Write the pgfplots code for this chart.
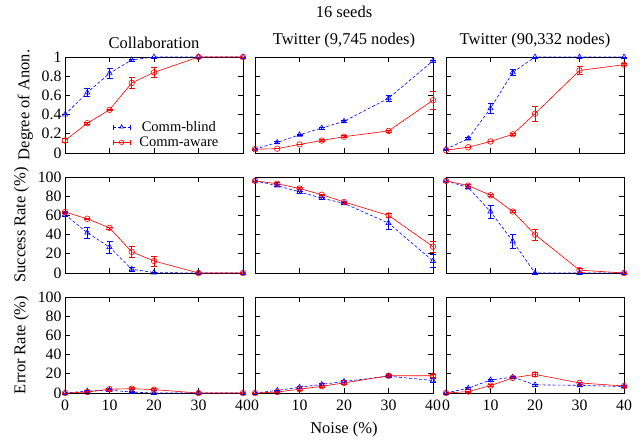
\documentclass[border=0pt]{standalone}
\usepackage{fontspec}
\setmainfont{Liberation Serif}
\usepackage{pgfplots}
\pgfplotsset{compat=1.18}

\newcommand{\fs}{\fontsize{16.5}{19}\selectfont}
\newcommand{\ft}{\fontsize{15.8}{18}\selectfont}

\pgfplotsset{
  panel/.style={
    scale only axis, width=178pt, height=96pt, anchor=south west,
    xmin=0, xmax=40, xtick={0,10,20,30,40},
    tick align=inside, xtick pos=both, ytick pos=both,
    major tick length=5pt,
    axis line style={line width=0.9pt},
    every tick/.style={black, line width=0.9pt},
    xticklabels={},
    label style={font=\fs},
    title style={font=\fs, yshift=-1pt},
    ylabel shift=2pt,
    /pgf/number format/assume math mode=true,
    clip=false,
  },
  anon/.style={ymin=0, ymax=1, ytick={0,0.2,0.4,0.6,0.8,1},
    yticklabels={{\ft 0},{\ft 0.2},{\ft 0.4},{\ft 0.6},{\ft 0.8},{\ft 1}}},
  pct/.style={ymin=0, ymax=100, ytick={0,20,40,60,80,100},
    yticklabels={{\ft 0},{\ft 20},{\ft 40},{\ft 60},{\ft 80},{\ft 100}}},
  noy/.style={yticklabels={}},
  botx/.style={xticklabels={{\ft 0},{\ft 10},{\ft 20},{\ft 30},{\ft 40}},
    xticklabel style={yshift=-3pt}},
  legimg/.style={legend image code/.code={
      \draw[mark repeat=2,mark phase=2,mark size=2.3pt,##1] plot coordinates {(0pt,0pt)(8.5pt,0pt)(17pt,0pt)};
      \draw[##1,solid,mark=none] (0pt,-2.5pt)--(0pt,2.5pt) (17pt,-2.5pt)--(17pt,2.5pt);
  }},
  blind/.style={blue, line width=0.6pt, dash pattern=on 3pt off 2pt,
    mark=triangle, mark size=3pt, mark options={solid}, legimg,
    error bars/.cd, y dir=both, y explicit,
    error bar style={solid, line width=0.6pt},
    error mark options={rotate=90, mark size=3pt, solid, line width=0.6pt}},
  aware/.style={red, line width=0.6pt, solid,
    mark=o, mark size=2.8pt, legimg,
    error bars/.cd, y dir=both, y explicit,
    error bar style={solid, line width=0.6pt},
    error mark options={rotate=90, mark size=3pt, solid, line width=0.6pt}},
}

\begin{document}
\begin{tikzpicture}
\path[use as bounding box] (0,0) rectangle (644pt,-447pt);
\node[font=\fs] at (344pt,-12pt) {16 seeds};

% ---- row 1: degree of anonymity
\begin{axis}[panel, anon, at={(65pt,-153pt)}, title={Collaboration}, ylabel={Degree of Anon.},
  legend style={at={(0.885,0.02)}, anchor=south east, draw=none, fill=none,
    font=\fontsize{14.5}{16}\selectfont,
    row sep=2pt, column sep=8pt, nodes={inner sep=1pt}}]
\addplot[blind] coordinates {(0,0.40) +- (0,0) (5,0.63) +- (0,0.04) (10,0.83) +- (0,0.05)
  (15,0.97) +- (0,0.01) (20,1.0) +- (0,0) (30,1.0) +- (0,0) (40,1.0) +- (0,0)};
\addlegendentry{Comm-blind}
\addplot[aware] coordinates {(0,0.13) +- (0,0.02) (5,0.31) +- (0,0.01) (10,0.45) +- (0,0.01)
  (15,0.73) +- (0,0.06) (20,0.84) +- (0,0.05) (30,1.0) +- (0,0) (40,1.0) +- (0,0)};
\addlegendentry{Comm-aware}
\end{axis}

\begin{axis}[panel, anon, noy, at={(255pt,-153pt)}, title={Twitter (9,745 nodes)}]
\addplot[blind] coordinates {(0,0.04) +- (0,0) (5,0.11) +- (0,0.01) (10,0.19) +- (0,0.01)
  (15,0.26) +- (0,0.01) (20,0.33) +- (0,0.01) (30,0.57) +- (0,0.03) (40,0.96) +- (0,0.01)};
\addplot[aware] coordinates {(0,0.04) +- (0,0) (5,0.045) +- (0,0) (10,0.09) +- (0,0)
  (15,0.13) +- (0,0.01) (20,0.17) +- (0,0.01) (30,0.23) +- (0,0.01) (40,0.55) +- (0,0.09)};
\end{axis}

\begin{axis}[panel, anon, noy, at={(446pt,-153pt)}, title={Twitter (90,332 nodes)}]
\addplot[blind] coordinates {(0,0.04) +- (0,0) (5,0.15) +- (0,0.01) (10,0.465) +- (0,0.05)
  (15,0.84) +- (0,0.03) (20,1.0) +- (0,0) (30,1.0) +- (0,0) (40,1.0) +- (0,0)};
\addplot[aware] coordinates {(0,0.03) +- (0,0) (5,0.06) +- (0,0) (10,0.12) +- (0,0)
  (15,0.195) +- (0,0.01) (20,0.41) +- (0,0.08) (30,0.86) +- (0,0.04) (40,0.92) +- (0,0.01)};
\end{axis}

% ---- row 2: success rate
\begin{axis}[panel, pct, at={(65pt,-273pt)}, ylabel={Success Rate (\%)}]
\addplot[blind] coordinates {(0,61) +- (0,2) (5,42) +- (0,6) (10,27) +- (0,6)
  (15,4) +- (0,2) (20,0.5) +- (0,0) (30,0) +- (0,0) (40,0) +- (0,0)};
\addplot[aware] coordinates {(0,63.5) +- (0,1) (5,56.5) +- (0,1) (10,47) +- (0,1)
  (15,22) +- (0,6) (20,12.5) +- (0,5) (30,0) +- (0,0) (40,0) +- (0,0)};
\end{axis}

\begin{axis}[panel, pct, noy, at={(255pt,-273pt)}]
\addplot[blind] coordinates {(0,96) +- (0,0) (5,91) +- (0,1) (10,84.5) +- (0,1)
  (15,78) +- (0,1) (20,72.5) +- (0,1) (30,52) +- (0,6) (40,12.5) +- (0,7)};
\addplot[aware] coordinates {(0,96) +- (0,0) (5,93) +- (0,1) (10,88) +- (0,1)
  (15,81.5) +- (0,1) (20,74) +- (0,1) (30,60) +- (0,2) (40,27.5) +- (0,6)};
\end{axis}

\begin{axis}[panel, pct, noy, at={(446pt,-273pt)}]
\addplot[blind] coordinates {(0,96) +- (0,0) (5,89) +- (0,1) (10,64) +- (0,7)
  (15,33) +- (0,7) (20,0) +- (0,0) (30,0) +- (0,0) (40,0) +- (0,0)};
\addplot[aware] coordinates {(0,96) +- (0,0) (5,91) +- (0,1) (10,81) +- (0,1)
  (15,64) +- (0,1) (20,40) +- (0,6) (30,3) +- (0,2) (40,0) +- (0,0)};
\end{axis}

% ---- row 3: error rate
\begin{axis}[panel, pct, botx, at={(65pt,-393pt)}, ylabel={Error Rate (\%)}]
\addplot[blind] coordinates {(0,0) +- (0,0) (5,2) +- (0,0.5) (10,3) +- (0,1)
  (15,1) +- (0,0.5) (20,0) +- (0,0) (30,0) +- (0,0) (40,0) +- (0,0)};
\addplot[aware] coordinates {(0,0) +- (0,0) (5,1) +- (0,0.5) (10,4) +- (0,1)
  (15,4.5) +- (0,1) (20,3.5) +- (0,1) (30,0) +- (0,0) (40,0) +- (0,0)};
\end{axis}

\begin{axis}[panel, pct, noy, botx, at={(255pt,-393pt)}, xlabel={Noise (\%)},
  xlabel style={yshift=-5pt}]
\addplot[blind] coordinates {(0,0) +- (0,0) (5,2.7) +- (0,0.5) (10,6) +- (0,1)
  (15,9) +- (0,1) (20,12) +- (0,1) (30,17.5) +- (0,1) (40,13) +- (0,2)};
\addplot[aware] coordinates {(0,0) +- (0,0) (5,1) +- (0,0.5) (10,4) +- (0,1)
  (15,7) +- (0,1) (20,10.5) +- (0,1) (30,18) +- (0,1) (40,18) +- (0,2)};
\end{axis}

\begin{axis}[panel, pct, noy, botx, at={(446pt,-393pt)}]
\addplot[blind] coordinates {(0,0) +- (0,0) (5,5) +- (0,1) (10,13.5) +- (0,1)
  (15,16.5) +- (0,1) (20,8.5) +- (0,1) (30,8) +- (0,1) (40,6.7) +- (0,1)};
\addplot[aware] coordinates {(0,0) +- (0,0) (5,1.5) +- (0,0.5) (10,7.7) +- (0,1)
  (15,15.8) +- (0,1) (20,19.4) +- (0,2) (30,10.5) +- (0,1) (40,7.3) +- (0,1)};
\end{axis}
\end{tikzpicture}
\end{document}
